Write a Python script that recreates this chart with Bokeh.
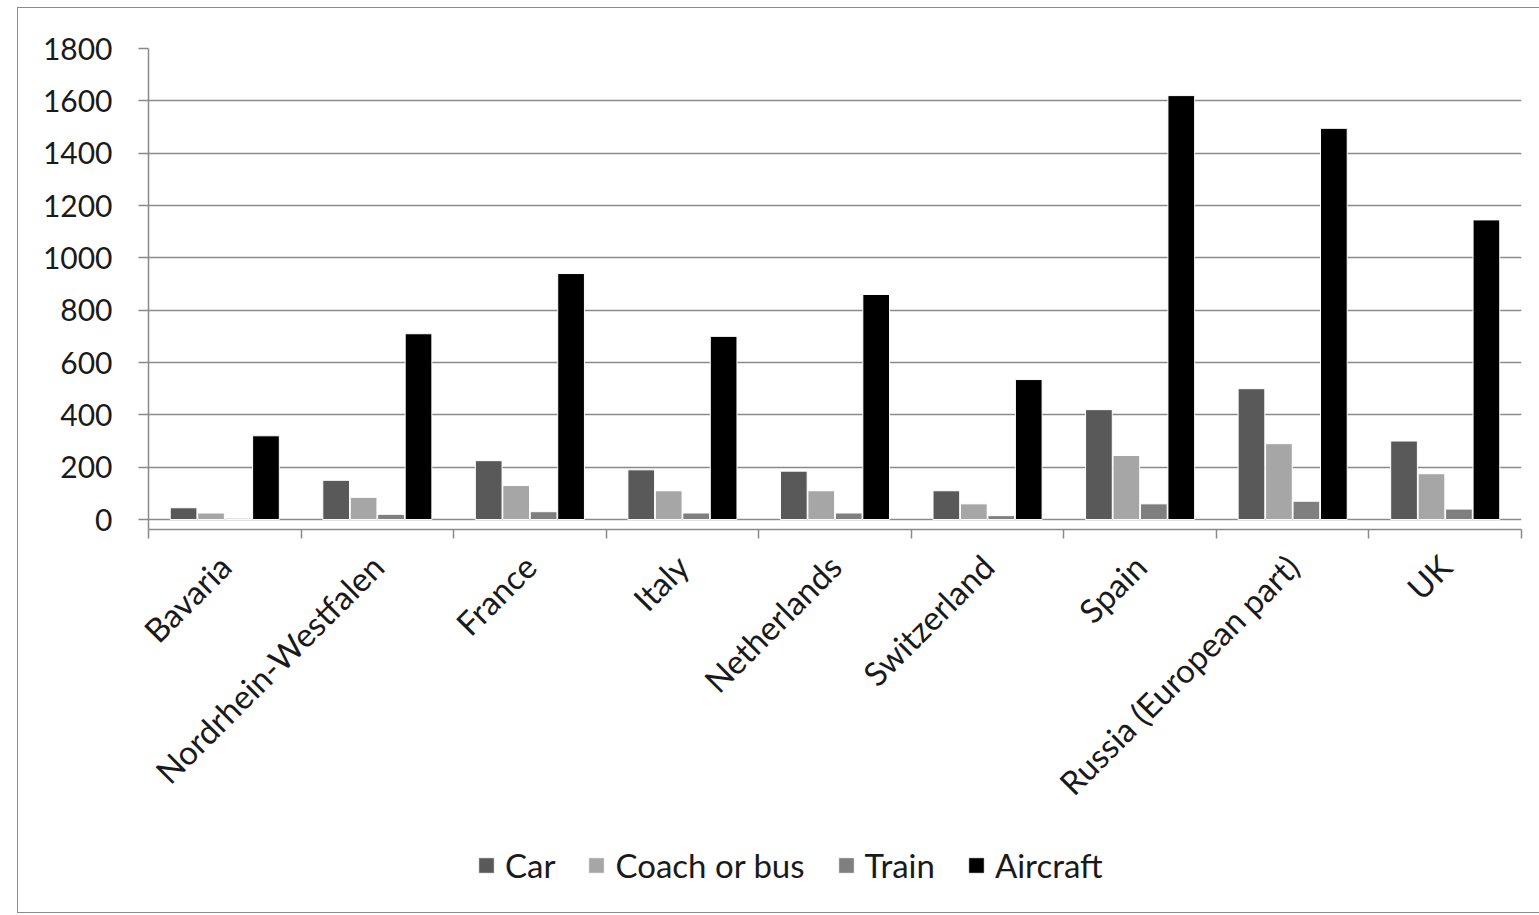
import math
from bokeh.plotting import figure
from bokeh.layouts import column
from bokeh.models import Range1d, FixedTicker, ColumnDataSource, Legend, LegendItem
from bokeh.embed import file_html
from bokeh.resources import INLINE

regions = ["Bavaria", "Nordrhein-Westfalen", "France", "Italy", "Netherlands",
           "Switzerland", "Spain", "Russia (European part)", "UK"]
car = [45, 150, 225, 190, 185, 110, 420, 500, 300]
coach = [25, 85, 130, 110, 110, 60, 245, 290, 175]
train = [5, 20, 30, 25, 25, 15, 60, 70, 40]
aircraft = [320, 710, 940, 700, 860, 535, 1620, 1495, 1145]
y_ticks = [0, 200, 400, 600, 800, 1000, 1200, 1400, 1600, 1800]

series = [("Car", car, "#595959"), ("Coach or bus", coach, "#a6a6a6"),
          ("Train", train, "#7f7f7f"), ("Aircraft", aircraft, "#000000")]
offsets = [-0.27, -0.09, 0.09, 0.27]

FONT = "Lato"
W = 1522

p = figure(width=W, height=821, output_backend="svg", toolbar_location=None,
           x_range=Range1d(0, len(regions)), y_range=Range1d(-38, 1800),
           min_border_left=130, min_border_right=19, min_border_top=40,
           min_border_bottom=300)
p.outline_line_color = None
p.xgrid.grid_line_color = None
p.ygrid.grid_line_color = "#8a8a8a"
p.ygrid.grid_line_width = 1.5
p.ygrid.ticker = FixedTicker(ticks=y_ticks)

# legend-only figure underneath
lg = figure(width=W, height=83, output_backend="svg", toolbar_location=None,
            x_range=Range1d(0, 1), y_range=Range1d(0, 1),
            x_axis_type=None, y_axis_type=None,
            min_border_left=130, min_border_right=19, min_border_top=0, min_border_bottom=0)
lg.outline_line_color = None
lg.xgrid.grid_line_color = None
lg.ygrid.grid_line_color = None

items = []
for (name, vals, col), off in zip(series, offsets):
    src = ColumnDataSource(dict(x=[i + 0.5 + off for i in range(len(regions))], top=vals))
    p.vbar(x="x", top="top", bottom=0, width=0.175, source=src,
           fill_color=col, line_color="white", line_width=1)
    # key-only renderer: a single zero-size bar outside the visible range
    r2 = lg.vbar(x=[0.5], top=[-5], bottom=-5, width=0.0,
                 fill_color=col, line_color=col, line_width=0.5)
    items.append(LegendItem(label=name, renderers=[r2]))

# y axis
p.yaxis.ticker = FixedTicker(ticks=y_ticks)
p.yaxis.axis_line_color = "#8a8a8a"
p.yaxis.axis_line_width = 1.5
p.yaxis.major_tick_line_color = "#8a8a8a"
p.yaxis.major_tick_line_width = 1.5
p.yaxis.major_tick_out = 10
p.yaxis.major_tick_in = 0
p.yaxis.minor_tick_line_color = None
p.yaxis.major_label_standoff = 26
p.yaxis.major_label_text_font = FONT
p.yaxis.major_label_text_font_size = "30px"
p.yaxis.major_label_text_color = "#1a1a1a"

# x axis
centers = [i + 0.5 for i in range(len(regions))]
p.xaxis.ticker = FixedTicker(ticks=centers, minor_ticks=list(range(len(regions) + 1)))
p.xaxis.major_label_overrides = {c: n for c, n in zip(centers, regions)}
p.xaxis.major_label_orientation = math.pi / 4
p.xaxis.axis_line_color = "#8a8a8a"
p.xaxis.axis_line_width = 1.5
p.xaxis.major_tick_line_color = None
p.xaxis.minor_tick_line_color = "#8a8a8a"
p.xaxis.minor_tick_line_width = 1.5
p.xaxis.minor_tick_out = 9
p.xaxis.minor_tick_in = 0
p.xaxis.major_label_standoff = 22
p.xaxis.major_label_text_font = FONT
p.xaxis.major_label_text_font_size = "33px"
p.xaxis.major_label_text_color = "#1a1a1a"

legend = Legend(items=items, orientation="horizontal", location=(329, 27),
                label_text_font=FONT, label_text_font_size="33px",
                label_text_color="#1a1a1a", glyph_width=18, glyph_height=18,
                spacing=32, label_standoff=10, border_line_color=None,
                background_fill_alpha=0, padding=0, margin=0)
lg.add_layout(legend, "center")

layout = column(p, lg, spacing=0,
                styles={"margin-left": "17px", "margin-top": "7px",
                        "border": "1.5px solid #8c8c8c"})

open("out.html", "w").write(file_html(layout, INLINE))
